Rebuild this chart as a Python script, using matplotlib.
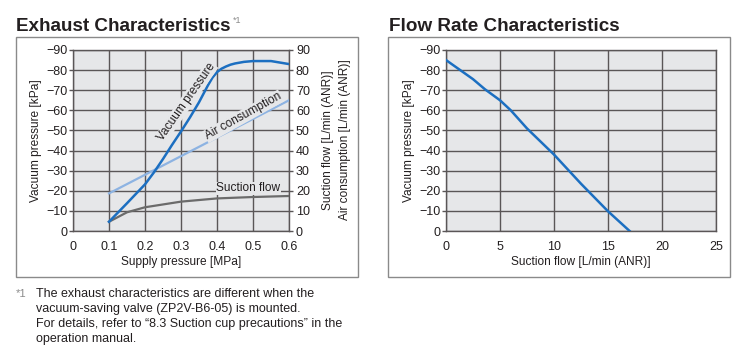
import matplotlib.pyplot as plt
from matplotlib.patches import Rectangle

plt.rcParams["font.family"] = ["Liberation Sans", "DejaVu Sans"]
plt.rcParams["axes.unicode_minus"] = True

# Exhaust characteristics
supply_pressure = [0.1, 0.15, 0.2, 0.225, 0.25, 0.275, 0.3, 0.325, 0.35, 0.375,
                   0.3875, 0.4, 0.4125, 0.425, 0.4375, 0.45, 0.475, 0.5, 0.55, 0.6]
vacuum_pressure = [4.6, 13.8, 23.2, 29.2, 35.8, 42.8, 49.5, 56.5, 64, 72.5,
                   76.3, 79, 80.7, 81.8, 82.7, 83.3, 84.1, 84.5, 84.5, 83]
air_x = [0.1, 0.6]
air_consumption = [18.7, 65]
suction_x = [0.1, 0.15, 0.2, 0.3, 0.4, 0.5, 0.6]
suction_flow = [4.6, 9.3, 11.8, 14.6, 16.2, 16.9, 17.4]

# Flow rate characteristics
flow_x = [0, 2.5, 3.6, 5, 6, 7.5, 10, 12.5, 15, 17]
flow_vacuum = [85, 75.5, 70.5, 65, 60, 51, 38, 23.5, 9.8, 0]

BG = "#e6e7e9"
GRID = "#5a5657"
BLUE = "#1c6fc1"
LIGHT_BLUE = "#8db3e2"
GRAY = "#6b6b6b"
TEXT = "#231f20"
TICK_FS = 9
LABEL_FS = 8.6

fig = plt.figure(figsize=(7.45, 3.63), dpi=100)
W, H = 745, 363


def px(x0, y0, x1, y1):
    return [x0 / W, 1 - y1 / H, (x1 - x0) / W, (y1 - y0) / H]


def style_axes(ax):
    ax.set_facecolor(BG)
    for s in ax.spines.values():
        s.set_color(GRID)
        s.set_linewidth(1.0)
    ax.grid(True, color=GRID, linewidth=1.0)
    ax.set_axisbelow(True)
    ax.set_ylim(0, 90)
    ax.set_yticks(range(0, 100, 10))
    ax.set_yticklabels(["0"] + ["\u2212%d" % v for v in range(10, 100, 10)])
    ax.tick_params(axis="y", length=3, width=1, color=GRID, pad=1,
                   labelsize=TICK_FS, labelcolor=TEXT)
    ax.tick_params(axis="x", length=0, pad=7, labelsize=TICK_FS, labelcolor=TEXT)


# panel frames
for x0, x1 in [(16, 358), (388, 730)]:
    fig.patches.append(Rectangle((x0 / W, 1 - 277 / H), (x1 - x0) / W, 240 / H,
                                 transform=fig.transFigure, fill=False,
                                 edgecolor="#8a8a8a", linewidth=1.0))

# left chart
ax1 = fig.add_axes(px(73, 50, 289, 231))
style_axes(ax1)
ax1.set_xlim(0, 0.6)
ax1.set_xticks([0, 0.1, 0.2, 0.3, 0.4, 0.5, 0.6])
ax1.set_xticklabels(["0", "0.1", "0.2", "0.3", "0.4", "0.5", "0.6"])
ax1.plot(air_x, air_consumption, color=LIGHT_BLUE, lw=1.6, zorder=3)
ax1.plot(suction_x, suction_flow, color=GRAY, lw=1.6, zorder=3)
ax1.plot(supply_pressure, vacuum_pressure, color=BLUE, lw=1.8, zorder=4)
ax1.set_xlabel("Supply pressure [MPa]", fontsize=LABEL_FS, labelpad=2, color=TEXT)
ax1.set_ylabel("Vacuum pressure [kPa]", fontsize=LABEL_FS, labelpad=3, color=TEXT)

label_box = dict(facecolor=BG, edgecolor="none", pad=0.5)
ax1.text(0.314, 64, "Vacuum pressure", fontsize=LABEL_FS, rotation=55,
         ha="center", va="center", bbox=label_box, zorder=5, color=TEXT)
ax1.text(0.473, 57, "Air consumption", fontsize=LABEL_FS, rotation=29,
         ha="center", va="center", bbox=label_box, zorder=5, color=TEXT)
ax1.text(0.487, 21.2, "Suction flow", fontsize=LABEL_FS,
         ha="center", va="center", bbox=label_box, zorder=5, color=TEXT)

ax1r = ax1.twinx()
ax1r.set_ylim(0, 90)
ax1r.set_yticks(range(0, 100, 10))
ax1r.tick_params(axis="y", length=3, width=1, color=GRID, pad=2,
                 labelsize=TICK_FS, labelcolor=TEXT)
for s in ax1r.spines.values():
    s.set_visible(False)
fig.text(328 / W, 1 - 140 / H, "Suction flow [L/min (ANR)]", fontsize=LABEL_FS,
         rotation=90, ha="center", va="center", color=TEXT)
fig.text(345 / W, 1 - 140 / H, "Air consumption [L/min (ANR)]", fontsize=LABEL_FS,
         rotation=90, ha="center", va="center", color=TEXT)

# right chart
ax2 = fig.add_axes(px(446, 50, 716, 231))
style_axes(ax2)
ax2.set_xlim(0, 25)
ax2.set_xticks(range(0, 30, 5))
ax2.plot(flow_x, flow_vacuum, color=BLUE, lw=1.8, zorder=4)
ax2.set_xlabel("Suction flow [L/min (ANR)]", fontsize=LABEL_FS, labelpad=2, color=TEXT)
ax2.set_ylabel("Vacuum pressure [kPa]", fontsize=LABEL_FS, labelpad=3, color=TEXT)

# titles
fig.text(16 / W, 1 - 31 / H, "Exhaust Characteristics", fontsize=13.6,
         fontweight="bold", ha="left", va="baseline", color=TEXT)
fig.text(233 / W, 1 - 23 / H, "*1", fontsize=6.5, color="#8a8a8a",
         ha="left", va="baseline")
fig.text(389 / W, 1 - 31 / H, "Flow Rate Characteristics", fontsize=13.6,
         fontweight="bold", ha="left", va="baseline", color=TEXT)

# footnote
notes = [
    "The exhaust characteristics are different when the",
    "vacuum-saving valve (ZP2V-B6-05) is mounted.",
    "For details, refer to \u201c8.3 Suction cup precautions\u201d in the",
    "operation manual.",
]
fig.text(16 / W, 1 - 294 / H, "*1", fontsize=8, color="#8a8a8a",
         ha="left", va="center")
for i, line in enumerate(notes):
    fig.text(36 / W, 1 - (294 + 15 * i) / H, line, fontsize=9,
             ha="left", va="center", color=TEXT)

fig.savefig("out.png", dpi=100)
